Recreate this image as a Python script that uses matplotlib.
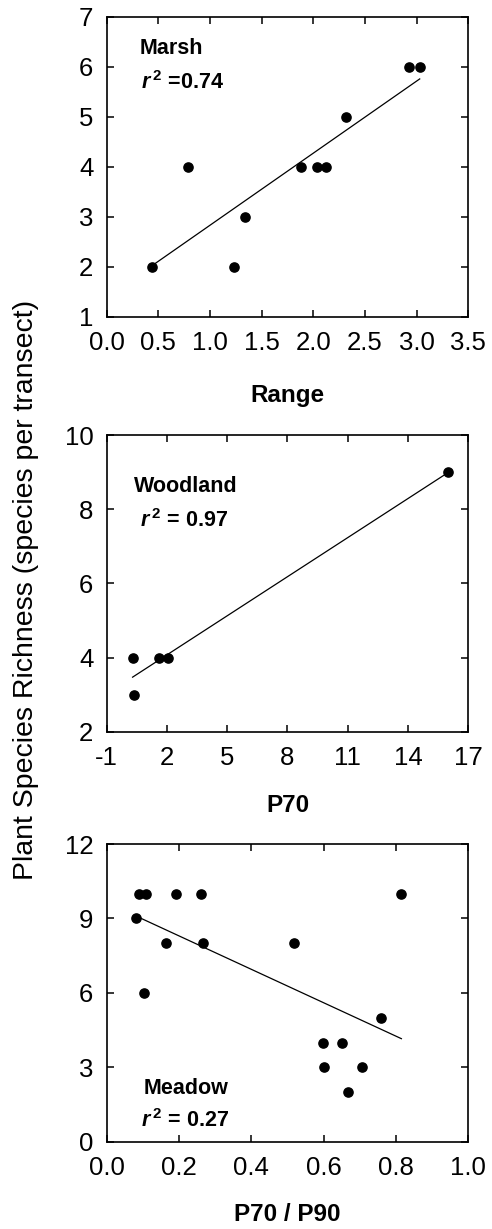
import numpy as np
import matplotlib
matplotlib.use("Agg")
import matplotlib.pyplot as plt

plt.rcParams['font.family'] = ['Liberation Sans', 'DejaVu Sans']
plt.rcParams['mathtext.fontset'] = 'custom'
plt.rcParams['mathtext.it'] = 'Liberation Sans:italic:bold'
plt.rcParams['mathtext.bf'] = 'Liberation Sans:bold'
plt.rcParams['mathtext.rm'] = 'Liberation Sans:bold'

# Marsh: richness vs range
marsh_x = [0.44, 0.79, 1.23, 1.34, 1.88, 2.04, 2.12, 2.32, 2.93, 3.03]
marsh_y = [2, 4, 2, 3, 4, 4, 4, 5, 6, 6]

# Woodland: richness vs P70
wood_x = [0.29, 0.37, 1.62, 2.07, 16.0]
wood_y = [4, 3, 4, 4, 9]

# Meadow: richness vs P70/P90
meadow_x = [0.080, 0.089, 0.110, 0.103, 0.163, 0.191, 0.262, 0.267,
            0.518, 0.599, 0.601, 0.652, 0.668, 0.705, 0.758, 0.815]
meadow_y = [9, 10, 10, 6, 8, 10, 10, 8, 8, 4, 3, 4, 2, 3, 5, 10]

panels = [
    dict(x=marsh_x, y=marsh_y, xlim=(0, 3.5), ylim=(1, 7),
         xticks=np.arange(0, 3.51, 0.5), yticks=range(1, 8), xfmt="{:.1f}",
         xlabel="Range", xlabel_y=-0.224, name="Marsh", r2=r"$r^{\,2}$ =0.74",
         name_pos=(0.09, 0.876), r2_pos=(0.095, 0.759),
         rect=[0.2168, 0.7423, 0.7350, 0.2441]),
    dict(x=wood_x, y=wood_y, xlim=(-1, 17), ylim=(2, 10),
         xticks=range(-1, 18, 3), yticks=range(2, 11, 2), xfmt=None,
         xlabel="P70", xlabel_y=-0.21, name="Woodland", r2=r"$r^{\,2}$ = 0.97",
         name_pos=(0.076, 0.809), r2_pos=(0.092, 0.689),
         rect=[0.2168, 0.4046, 0.7350, 0.2414]),
    dict(x=meadow_x, y=meadow_y, xlim=(0, 1.0), ylim=(0, 12),
         xticks=np.arange(0, 1.01, 0.2), yticks=range(0, 13, 3), xfmt="{:.1f}",
         xlabel="P70 / P90", xlabel_y=-0.205, name="Meadow", r2=r"$r^{\,2}$ = 0.27",
         name_pos=(0.101, 0.159), r2_pos=(0.094, 0.05),
         rect=[0.2168, 0.0710, 0.7350, 0.2422]),
]

fig = plt.figure(figsize=(4.92, 12.29), dpi=100)

for p in panels:
    ax = fig.add_axes(p["rect"])
    x = np.array(p["x"], dtype=float)
    y = np.array(p["y"], dtype=float)
    ax.scatter(x, y, s=44, color="black", zorder=3)

    # least-squares fit line over the data range
    slope, icept = np.polyfit(x, y, 1)
    xl = np.array([x.min(), x.max()])
    ax.plot(xl, slope * xl + icept, color="black", linewidth=0.9)

    ax.set_xlim(*p["xlim"])
    ax.set_ylim(*p["ylim"])
    ax.set_xticks(p["xticks"])
    if p["xfmt"]:
        ax.set_xticklabels([p["xfmt"].format(v) for v in p["xticks"]])
    else:
        ax.set_xticklabels([str(v) for v in p["xticks"]])
    ax.set_yticks(list(p["yticks"]))
    ax.tick_params(direction="in", top=True, right=True, length=5, width=1.1,
                   labelsize=18.5)
    ax.tick_params(axis="x", pad=10)
    ax.tick_params(axis="y", pad=9.5)
    for s in ax.spines.values():
        s.set_linewidth(1.2)
    ax.set_xlabel(p["xlabel"], fontsize=17.5, fontweight="bold")
    ax.xaxis.set_label_coords(0.5, p["xlabel_y"])

    ax.text(p["name_pos"][0], p["name_pos"][1], p["name"], transform=ax.transAxes,
            fontsize=15.5, fontweight="bold", ha="left", va="baseline")
    ax.text(p["r2_pos"][0], p["r2_pos"][1], p["r2"], transform=ax.transAxes,
            fontsize=15.5, fontweight="bold", ha="left", va="baseline")

fig.text(0.052, 0.52, "Plant Species Richness (species per transect)",
         rotation=90, ha="center", va="center", fontsize=20.5)

fig.savefig("out.png", dpi=100)
